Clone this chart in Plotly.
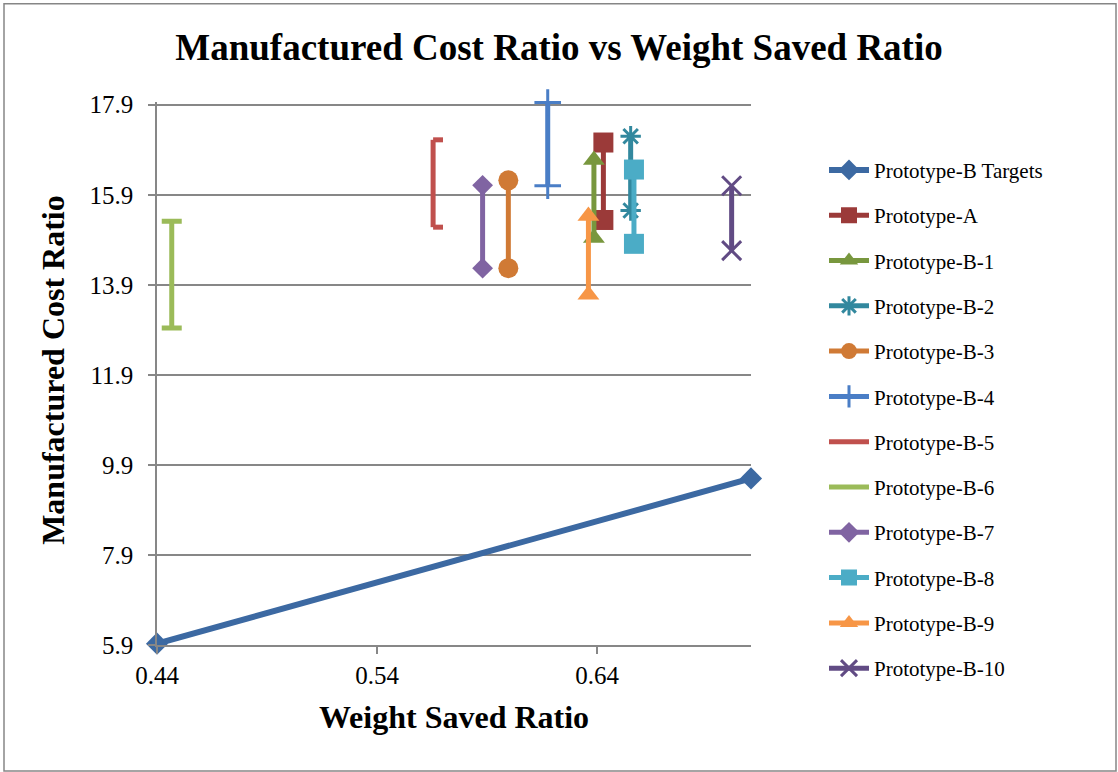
import plotly.graph_objects as go

# Prototype-B target line
target_x = [0.44, 0.71]
target_y = [5.93, 9.60]

# Cost-ratio ranges (top, bottom) for each prototype at its weight-saved ratio
proto_names = [
    "Prototype-A", "Prototype-B-1", "Prototype-B-2", "Prototype-B-3",
    "Prototype-B-4", "Prototype-B-5", "Prototype-B-6", "Prototype-B-7",
    "Prototype-B-8", "Prototype-B-9", "Prototype-B-10",
]
proto_x = [0.6429, 0.6386, 0.6553, 0.5997, 0.6176, 0.5655, 0.4467,
           0.5880, 0.6568, 0.6361, 0.7012]
proto_top = [17.06, 16.67, 17.20, 16.22, 17.95, 17.12, 15.31,
             16.11, 16.46, 15.43, 16.10]
proto_bottom = [15.34, 14.94, 15.55, 14.27, 16.10, 15.18, 12.94,
                14.27, 14.81, 13.68, 14.66]

x_ticks = [0.44, 0.54, 0.64]
y_ticks = [5.9, 7.9, 9.9, 11.9, 13.9, 15.9, 17.9]

colors = {
    "Prototype-B Targets": "#3C69A2",
    "Prototype-A": "#9B3A39",
    "Prototype-B-1": "#78973E",
    "Prototype-B-2": "#32889E",
    "Prototype-B-3": "#D07A35",
    "Prototype-B-4": "#4A7EC6",
    "Prototype-B-5": "#C0504D",
    "Prototype-B-6": "#9BBB59",
    "Prototype-B-7": "#8064A2",
    "Prototype-B-8": "#4BACC6",
    "Prototype-B-9": "#F79646",
    "Prototype-B-10": "#614B84",
}

markers = {
    "Prototype-A": ("square", 20),
    "Prototype-B-1": ("triangle-up", 19),
    "Prototype-B-2": ("asterisk-open", 17),
    "Prototype-B-3": ("circle", 20),
    "Prototype-B-4": ("cross-thin-open", 19),
    "Prototype-B-7": ("diamond", 16),
    "Prototype-B-8": ("square", 20),
    "Prototype-B-9": ("triangle-up", 19),
    "Prototype-B-10": ("x-thin-open", 19),
}

SERIF = "Liberation Serif"
GRID = "#878787"
LW = 5

# the value axis runs a hair past the 17.9 gridline so the top
# Prototype-B-4 marker stays visible
Y_MIN, Y_MAX = 5.9, 17.96
PX_PER_UNIT = 45.0
PLOT_LEFT, PLOT_RIGHT = 157.0, 751.0
PLOT_BOTTOM = 645.0
PLOT_TOP = PLOT_BOTTOM - (Y_MAX - Y_MIN) * PX_PER_UNIT
PLOT_W = PLOT_RIGHT - PLOT_LEFT
PLOT_H = PLOT_BOTTOM - PLOT_TOP


def px_x(px):
    return (px - PLOT_LEFT) / PLOT_W


def px_y(px):
    return (PLOT_BOTTOM - px) / PLOT_H


fig = go.Figure()

fig.add_trace(go.Scatter(
    x=target_x, y=target_y, name="Prototype-B Targets",
    mode="lines+markers", legendgroup="t",
    line=dict(color=colors["Prototype-B Targets"], width=6),
    marker=dict(symbol="diamond", size=17, color=colors["Prototype-B Targets"]),
    cliponaxis=False,
))

for name, x, top, bot in zip(proto_names, proto_x, proto_top, proto_bottom):
    c = colors[name]
    kw = dict(x=[x, x], y=[top, bot], name=name, legendgroup=name,
              line=dict(color=c, width=LW), cliponaxis=False)
    if name in markers:
        sym, size = markers[name]
        mline = dict(color=c, width=3) if sym.endswith("open") else dict(width=0)
        kw.update(mode="lines+markers",
                  marker=dict(symbol=sym, size=size, color=c, line=mline))
    elif name == "Prototype-B-5":
        # bracket: short horizontal strokes to the right at both ends
        kw.update(mode="lines",
                  error_x=dict(type="constant", symmetric=False, value=0.0045,
                               valueminus=0, width=0, thickness=LW, color=c))
    else:
        # I-beam: zero-length error bars give the end caps
        kw.update(mode="lines",
                  error_y=dict(type="constant", value=0, width=10,
                               thickness=LW, color=c))
    fig.add_trace(go.Scatter(**kw))

fig.update_layout(
    width=1118, height=772,
    margin=dict(l=PLOT_LEFT, r=1118 - PLOT_RIGHT, t=PLOT_TOP, b=772 - PLOT_BOTTOM),
    paper_bgcolor="white", plot_bgcolor="white",
    font=dict(family=SERIF, color="black"),
    title=dict(text="<b>Manufactured Cost Ratio vs Weight Saved Ratio</b>",
               x=0.5, xref="container", xanchor="center",
               y=1 - 47 / 772, yref="container", yanchor="middle",
               font=dict(family=SERIF, size=37, color="black")),
    legend=dict(x=px_x(824), xanchor="left", y=px_y(150), yanchor="top",
                font=dict(family=SERIF, size=21, color="black"),
                tracegroupgap=15, itemwidth=40, bgcolor="rgba(0,0,0,0)"),
    showlegend=True,
    shapes=[dict(type="rect", xref="paper", yref="paper",
                 x0=px_x(4), x1=px_x(1116), y0=px_y(771), y1=px_y(4),
                 line=dict(color="#868686", width=1.5), layer="below")],
    annotations=[dict(text="<b>Manufactured Cost Ratio</b>", textangle=-90,
                      xref="paper", yref="paper", x=px_x(53), y=px_y(370),
                      xanchor="center", yanchor="middle", showarrow=False,
                      font=dict(family=SERIF, size=32, color="black"))],
)

fig.update_xaxes(
    range=[0.44, 0.71], tickvals=x_ticks, ticktext=[f"{v:.2f}" for v in x_ticks],
    showgrid=False, zeroline=False,
    showline=True, linecolor=GRID, linewidth=1.5,
    ticks="outside", ticklen=7, tickcolor=GRID, tickwidth=1.5,
    tickfont=dict(family=SERIF, size=25, color="black"),
    title=dict(text="<b>Weight Saved Ratio</b>", standoff=18,
               font=dict(family=SERIF, size=32, color="black")),
)
fig.update_yaxes(
    range=[Y_MIN, Y_MAX], tickvals=y_ticks, ticktext=[f"{v:.1f}" for v in y_ticks],
    showgrid=True, gridcolor=GRID, gridwidth=1.5, zeroline=False,
    showline=True, linecolor=GRID, linewidth=1.5,
    ticks="outside", ticklen=7, tickcolor=GRID, tickwidth=1.5,
    tickfont=dict(family=SERIF, size=25, color="black"),
    ticklabelstandoff=10,
)

fig.write_html("out.html")
